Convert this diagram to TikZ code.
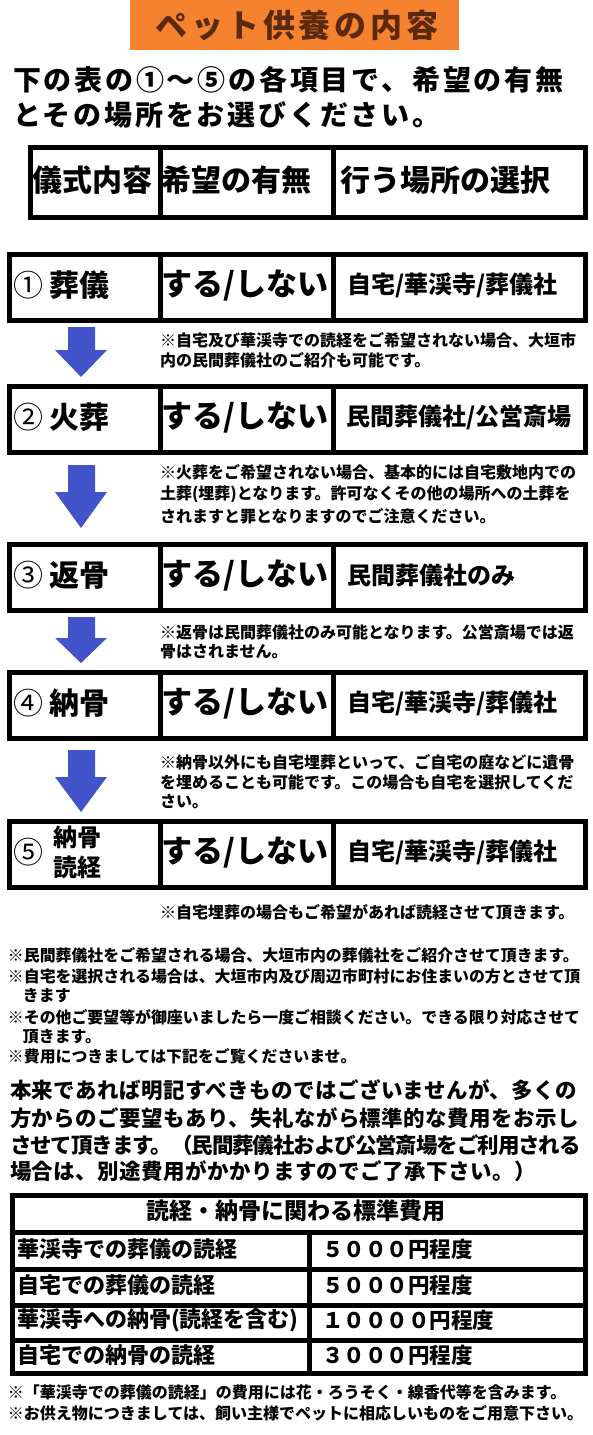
\documentclass[tikz,border=0pt]{standalone}
\usepackage{fontspec}
\setmainfont{Noto Sans CJK JP}
\definecolor{titleor}{HTML}{F5822E}
\definecolor{titlebr}{HTML}{5B2A0E}
\definecolor{arrowbl}{HTML}{4254C9}
\newcommand{\fs}[1]{\fontsize{#1}{#1}\selectfont}
\newcommand{\blockdown}[3]{\fill[arrowbl] (68,#1) -- (95,#1) -- (95,#2) -- (107,#2) -- (81,#3) -- (55,#2) -- (68,#2) -- cycle;}
\tikzset{
  cell/.style={draw=black, line width=5pt, anchor=north west, inner sep=0pt},
  txt/.style={anchor=west, inner sep=0pt, outer sep=0pt},
  hdr/.style={txt, font=\fs{30}\bfseries},
  item/.style={txt, font=\fs{30}\bfseries},
  choice/.style={anchor=center, inner sep=0pt, font=\fs{31}\bfseries},
  place/.style={txt, font=\fs{24}\bfseries},
  note/.style={txt, font=\fs{16}\bfseries},
  gnote/.style={txt, font=\fs{15.9}\bfseries},
  para/.style={txt, font=\fs{21.5}\bfseries\addfontfeatures{LetterSpace=2}},
  costl/.style={txt, font=\fs{22}\bfseries},
  costr/.style={txt, font=\fs{21.5}\bfseries},
}
\begin{document}
\begin{tikzpicture}[x=1pt,y=-1pt]
\useasboundingbox (0,0) rectangle (593,1435);
\fill[white] (0,0) rectangle (593,1435);

% title
\node[fill=titleor, anchor=north west, minimum width=329, minimum height=50, inner sep=0pt] (titlebox) at (130,0) {};
\node[anchor=center, inner sep=0pt, text=titlebr, font=\fs{32}\bfseries\addfontfeatures{LetterSpace=12}] (title) at (297,25) {ペット供養の内容};

% intro
\node[txt, font=\fs{28}\bfseries\addfontfeatures{LetterSpace=10}] (introa) at (13,80) {下の表の①～⑤の各項目で、希望の有無};
\node[txt, font=\fs{28}\bfseries\addfontfeatures{LetterSpace=10}] (introb) at (13,115) {とその場所をお選びください。};

% header table
\node[cell, minimum width=130.5, minimum height=70] (h1) at (27.5,144.5) {};
\node[cell, minimum width=173, minimum height=70] (h2) at (158,144.5) {};
\node[cell, minimum width=251.5, minimum height=70] (h3) at (331,144.5) {};
\node[hdr] (h1t) at (32,180) {儀式内容};
\node[hdr] (h2t) at (161,180) {希望の有無};
\node[hdr] (h3t) at (340,180) {行う場所の選択};

% rows
\foreach \r/\y in {1/252,2/384,3/542,4/670,5/819}{
  \node[cell, minimum width=151, minimum height=66] (r\r a) at (7,\y) {};
  \node[cell, minimum width=173, minimum height=66] (r\r b) at (158,\y) {};
  \node[cell, minimum width=252, minimum height=66] (r\r c) at (331,\y) {};
  \node[choice] (r\r s) at (245,\y+33) {する/しない};
}
\node[item] (r1t) at (13,285) {{\mdseries ①} 葬儀};
\node[item] (r2t) at (13,417) {{\mdseries ②} 火葬};
\node[item] (r3t) at (13,575) {{\mdseries ③} 返骨};
\node[item] (r4t) at (13,703) {{\mdseries ④} 納骨};
\node[item] (r5t) at (13,852) {\mdseries ⑤};
\node[txt, font=\fs{24}\bfseries] (r5u) at (53,837) {納骨};
\node[txt, font=\fs{24}\bfseries] (r5v) at (53,867) {読経};

\node[place] (r1p) at (347,285) {自宅/華渓寺/葬儀社};
\node[place] (r2p) at (346,417) {民間葬儀社/公営斎場};
\node[place] (r3p) at (347,575) {民間葬儀社のみ};
\node[place] (r4p) at (347,703) {自宅/華渓寺/葬儀社};
\node[place] (r5p) at (347,852) {自宅/華渓寺/葬儀社};

% arrows
\blockdown{327}{350}{377}
\blockdown{465}{492}{528}
\blockdown{617}{638}{663}
\blockdown{750}{777}{812}

% notes under rows
\node[note] (n1a) at (160,340) {※自宅及び華渓寺での読経をご希望されない場合、大垣市};
\node[note] (n1b) at (160,360) {内の民間葬儀社のご紹介も可能です。};
\node[note] (n2a) at (160,472) {※火葬をご希望されない場合、基本的には自宅敷地内での};
\node[note] (n2b) at (160,494) {土葬(埋葬)となります。許可なくその他の場所への土葬を};
\node[note] (n2c) at (160,516) {されますと罪となりますのでご注意ください。};
\node[note] (n3a) at (160,632) {※返骨は民間葬儀社のみ可能となります。公営斎場では返};
\node[note] (n3b) at (160,652) {骨はされません。};
\node[note] (n4a) at (160,762) {※納骨以外にも自宅埋葬といって、ご自宅の庭などに遺骨};
\node[note] (n4b) at (160,782) {を埋めることも可能です。この場合も自宅を選択してくだ};
\node[note] (n4c) at (160,802) {さい。};
\node[note] (n5a) at (160,912) {※自宅埋葬の場合もご希望があれば読経させて頂きます。};

% general notes
\node[gnote] (g1) at (8,955) {※民間葬儀社をご希望される場合、大垣市内の葬儀社をご紹介させて頂きます。};
\node[gnote] (g2) at (8,976) {※自宅を選択される場合は、大垣市内及び周辺市町村にお住まいの方とさせて頂};
\node[gnote] (g3) at (23,996) {きます};
\node[gnote] (g4) at (8,1017) {※その他ご要望等が御座いましたら一度ご相談ください。できる限り対応させて};
\node[gnote] (g5) at (23,1037) {頂きます。};
\node[gnote] (g6) at (8,1056) {※費用につきましては下記をご覧くださいませ。};

% paragraph
\node[para] (p1) at (10,1090) {本来であれば明記すべきものではございませんが、多くの};
\node[para] (p2) at (10,1118) {方からのご要望もあり、失礼ながら標準的な費用をお示し};
\node[txt, font=\fs{21.5}\bfseries\addfontfeatures{LetterSpace=-5}] (p3) at (10,1145) {させて頂きます。（民間葬儀社および公営斎場をご利用される};
\node[para] (p4) at (10,1171) {場合は、別途費用がかかりますのでご了承下さい。）};

% cost table
\node[cell, minimum width=573, minimum height=37.5] (ch) at (9.5,1192.5) {};
\node[anchor=center, inner sep=0pt, font=\fs{23}\bfseries] (cht) at (296,1211) {読経・納骨に関わる標準費用};
\foreach \i/\t/\h in {1/1230/37,2/1267/36,3/1303/35,4/1338/33}{
  \node[cell, minimum width=297.5, minimum height=\h] (c\i l) at (9.5,\t) {};
  \node[cell, minimum width=275.5, minimum height=\h] (c\i r) at (307,\t) {};
}
\node[costl] (c1lt) at (17,1249) {華渓寺での葬儀の読経};
\node[costl] (c2lt) at (17,1285) {自宅での葬儀の読経};
\node[costl] (c3lt) at (17,1320.5) {華渓寺への納骨(読経を含む)};
\node[costl] (c4lt) at (17,1355) {自宅での納骨の読経};
\node[costr] (c1rt) at (322,1249) {５０００円程度};
\node[costr] (c2rt) at (322,1285) {５０００円程度};
\node[costr] (c3rt) at (322,1320.5) {１００００円程度};
\node[costr] (c4rt) at (322,1355) {３０００円程度};

% final notes
\node[note] (f1) at (8,1392) {※「華渓寺での葬儀の読経」の費用には花・ろうそく・線香代等を含みます。};
\node[note] (f2) at (8,1413) {※お供え物につきましては、飼い主様でペットに相応しいものをご用意下さい。};
\end{tikzpicture}
\end{document}
